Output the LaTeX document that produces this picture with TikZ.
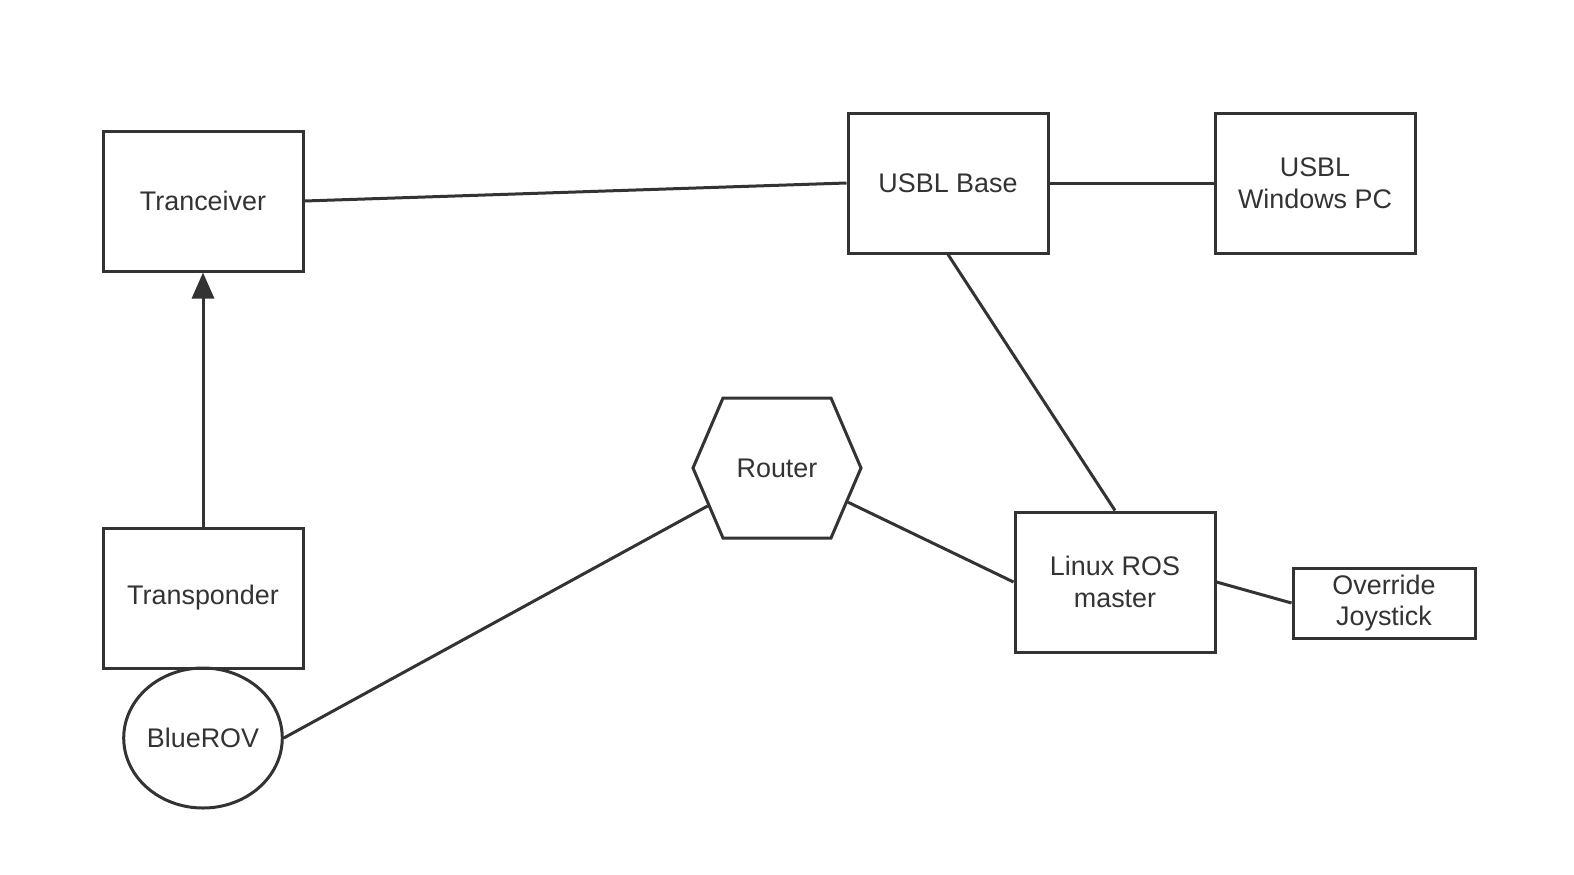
\documentclass[tikz,border=0pt]{standalone}
\usepackage{fontspec}
\setmainfont{Liberation Sans}
\usetikzlibrary{arrows.meta,shapes.geometric,shapes.symbols}
\definecolor{inkgray}{HTML}{333333}

\tikzset{
  unit/.style={draw=inkgray,line width=3bp,text=inkgray,minimum width=200bp,minimum height=140bp,
    align=center,font=\fontsize{27}{32}\selectfont,inner sep=0pt},
  smallunit/.style={unit,minimum width=182bp,minimum height=70bp},
  hub/.style={unit,shape=signal,signal to=west and east,signal pointer angle=133.6,
    minimum width=168bp,minimum height=140bp},
  vehicle/.style={unit,shape=ellipse,minimum width=156bp,minimum height=140bp},
  link/.style={draw=inkgray,line width=3bp}
}

\begin{document}
\begin{tikzpicture}[x=1bp,y=-1bp]
\useasboundingbox (0,0) rectangle (1574,874);

% units
\node[unit] (tranceiver) at (203,201) {Tranceiver};
\node[unit] (usblbase) at (948,183) {USBL Base};
\node[unit] (usblpc) at (1315,183) {USBL\\Windows PC};
\node[hub] (router) at (777,468) {Router};
\node[unit] (linux) at (1115,582) {Linux ROS\\master};
\node[smallunit] (joystick) at (1384,603) {Override\\Joystick};
\node[unit] (transponder) at (203,598) {Transponder};
\node[vehicle] (bluerov) at (203,738) {BlueROV};

% links
\draw[link] (tranceiver.east) -- (usblbase.west);
\draw[link] (usblbase.east) -- (usblpc.west);
\draw[link] (usblbase.south) -- (linux.north);
\draw[link] (bluerov.east) -- (router);
\draw[link] (router) -- (linux.west);
\draw[link] (linux.east) -- (joystick.west);
\draw[link,-{Triangle[length=26bp,width=22bp]}] (transponder.north) -- (tranceiver.south);

\end{tikzpicture}
\end{document}
